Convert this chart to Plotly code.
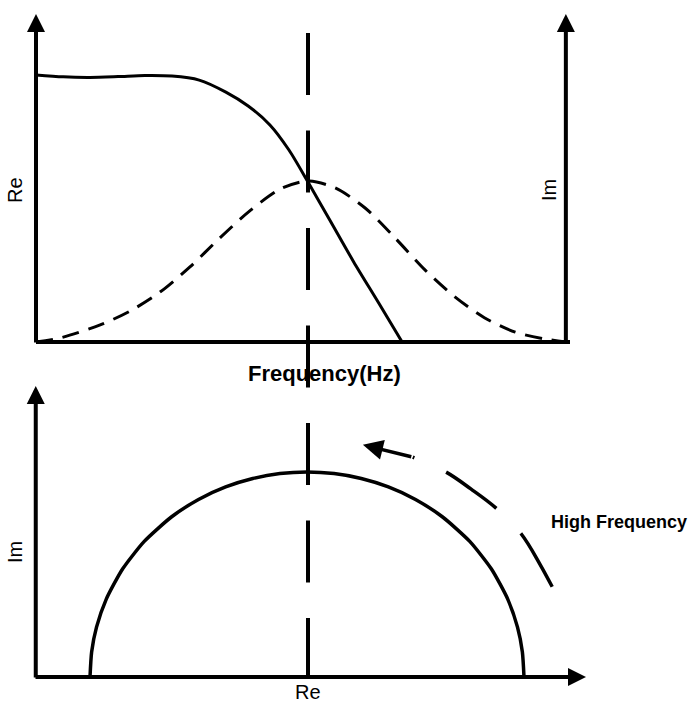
import plotly.graph_objects as go

W, H = 692, 704

# ---------------- data ----------------
# Upper panel: real and imaginary parts against frequency (log-frequency units)
freq_re = [0.0, 0.50, 0.99, 1.51, 2.00, 2.50, 3.00, 3.49, 3.90, 4.30, 4.65, 5.00, 5.40, 5.84, 6.30, 6.73]
re_part = [1.000, 0.993, 0.991, 0.994, 0.998, 0.996, 0.981, 0.936, 0.884, 0.813, 0.719, 0.599, 0.457, 0.300, 0.146, 0.0]

freq_im = [0.0, 0.44, 1.18, 1.73, 2.28, 2.83, 3.38, 3.93, 4.49, 5.00, 5.50, 6.05, 6.60, 7.15, 7.70, 8.25, 8.81, 9.36, 9.74]
im_part = [0.0, 0.015, 0.064, 0.116, 0.187, 0.281, 0.390, 0.491, 0.573, 0.603, 0.577, 0.502, 0.390, 0.270, 0.169, 0.090, 0.037, 0.011, 0.0]

f_peak = 5.0            # characteristic frequency (dashed marker)
f_axis_end = 9.74       # right-hand Im axis position

# Lower panel: Nyquist semicircle (Im vs Re)
nyq_re = [1.0, 1.03, 1.12, 1.3, 1.6, 2.0, 2.5, 3.0, 3.5, 4.0, 4.5, 5.0,
          5.5, 6.0, 6.5, 7.0, 7.5, 8.0, 8.4, 8.7, 8.88, 8.97, 9.0]
nyq_im = [0.0, 0.489, 0.973, 1.52, 2.107, 2.646, 3.122, 3.464, 3.708, 3.873, 3.969, 4.0,
          3.969, 3.873, 3.708, 3.464, 3.122, 2.646, 2.107, 1.52, 0.973, 0.489, 0.0]

# Direction of increasing frequency along the arc
hf_re = [9.52, 9.30, 8.95, 8.48, 8.02, 7.56, 6.95]
hf_im = [1.76, 2.19, 2.79, 3.30, 3.67, 4.00, 4.29]
hf_tip_re, hf_tip_im = 6.03, 4.53

# ---------------- geometry (pixel anchors of the two coordinate systems) ----------------
TOP_X0, TOP_XS = 36.0, 54.4      # pixel of f=0, pixels per unit
TOP_Y0, TOP_YS = 342.0, 267.0    # pixel of value 0, pixels per unit
BOT_X0, BOT_XS = 35.75, 54.25
BOT_Y0, BOT_YS = 677.0, 51.25


def xr(px0, s):
    return [-px0 / s, (W - px0) / s]


def yr(py0, s):
    return [-(H - py0) / s, py0 / s]


def top_x(px):
    return (px - TOP_X0) / TOP_XS


def top_y(py):
    return (TOP_Y0 - py) / TOP_YS


def bot_x(px):
    return (px - BOT_X0) / BOT_XS


def bot_y(py):
    return (BOT_Y0 - py) / BOT_YS


BLACK = "#000000"
FONT = "Liberation Sans, Arial, sans-serif"
FONT_NARROW = "Liberation Sans Narrow, Arial Narrow, Liberation Sans, sans-serif"

fig = go.Figure()

# Upper panel curves
fig.add_trace(go.Scatter(x=freq_re, y=re_part, mode="lines", line=dict(color=BLACK, width=3, shape="spline", smoothing=0.8),
                         xaxis="x", yaxis="y", hoverinfo="skip"))
fig.add_trace(go.Scatter(x=freq_im, y=im_part, mode="lines",
                         line=dict(color=BLACK, width=3, shape="spline", smoothing=0.8, dash="17px,10px"),
                         xaxis="x", yaxis="y", hoverinfo="skip"))

# Lower panel curves
fig.add_trace(go.Scatter(x=nyq_re, y=nyq_im, mode="lines", line=dict(color=BLACK, width=3.5, shape="spline", smoothing=0.6),
                         xaxis="x2", yaxis="y2", hoverinfo="skip"))
fig.add_trace(go.Scatter(x=hf_re, y=hf_im, mode="lines",
                         line=dict(color=BLACK, width=3.5, shape="spline", dash="62px,35px"),
                         xaxis="x2", yaxis="y2", hoverinfo="skip"))


def arrow(x, y, ax, ay, xref, yref, width=4, size=0.9):
    return dict(x=x, y=y, ax=ax, ay=ay, xref=xref, yref=yref, axref=xref, ayref=yref,
                showarrow=True, arrowhead=2, arrowsize=size, arrowwidth=width,
                arrowcolor=BLACK, text="")


annotations = [
    # upper panel axes
    arrow(0, top_y(14), 0, top_y(344), "x", "y"),
    arrow(f_axis_end, top_y(14), f_axis_end, top_y(344), "x", "y"),
    # lower panel axes
    arrow(0, bot_y(386), 0, bot_y(679), "x2", "y2"),
    arrow(bot_x(586), 0, bot_x(34), 0, "x2", "y2"),
    # high-frequency direction arrow
    arrow(hf_tip_re, hf_tip_im, hf_re[-1], hf_im[-1], "x2", "y2", width=3.5, size=1.15),
]

labels = [
    dict(text="Re", x=top_x(15), y=top_y(190), xref="x", yref="y", textangle=-90, size=20, bold=False),
    dict(text="Im", x=top_x(549), y=top_y(190), xref="x", yref="y", textangle=-90, size=20, bold=False),
    dict(text="Frequency(Hz)", x=top_x(324), y=top_y(373), xref="x", yref="y", textangle=0, size=22, bold=True),
    dict(text="Im", x=bot_x(15), y=bot_y(552), xref="x2", yref="y2", textangle=-90, size=20, bold=False),
    dict(text="Re", x=bot_x(308), y=bot_y(692), xref="x2", yref="y2", textangle=0, size=20, bold=False),
    dict(text="High Frequency", x=bot_x(619), y=bot_y(522), xref="x2", yref="y2", textangle=0, size=18, bold=True),
]
for lb in labels:
    annotations.append(dict(
        text=f"<b>{lb['text']}</b>" if lb["bold"] else lb["text"],
        x=lb["x"], y=lb["y"], xref=lb["xref"], yref=lb["yref"],
        textangle=lb["textangle"], showarrow=False,
        xanchor="center", yanchor="middle",
        font=dict(family=FONT if lb["bold"] else FONT_NARROW, size=lb["size"], color=BLACK),
    ))

shapes = [
    # upper panel frequency axis
    dict(type="line", xref="x", yref="y", x0=0, y0=0, x1=top_x(570), y1=0,
         line=dict(color=BLACK, width=4)),
    # characteristic-frequency marker running through both panels
    dict(type="line", xref="x", yref="paper", x0=f_peak, x1=f_peak,
         y0=1 - 33 / H, y1=1 - 677 / H,
         line=dict(color=BLACK, width=4, dash="62px,35.5px")),
]

axis_common = dict(visible=False, showgrid=False, zeroline=False, showticklabels=False, fixedrange=True)

fig.update_layout(
    width=W, height=H,
    margin=dict(l=0, r=0, t=0, b=0),
    paper_bgcolor="white", plot_bgcolor="rgba(0,0,0,0)",
    showlegend=False,
    xaxis=dict(domain=[0, 1], range=xr(TOP_X0, TOP_XS), anchor="y", **axis_common),
    yaxis=dict(domain=[0, 1], range=yr(TOP_Y0, TOP_YS), anchor="x", **axis_common),
    xaxis2=dict(domain=[0, 1], range=xr(BOT_X0, BOT_XS), anchor="y2", **axis_common),
    yaxis2=dict(domain=[0, 1], range=yr(BOT_Y0, BOT_YS), anchor="x2", **axis_common),
    annotations=annotations,
    shapes=shapes,
)

fig.write_html("out.html", config={"displayModeBar": False})
